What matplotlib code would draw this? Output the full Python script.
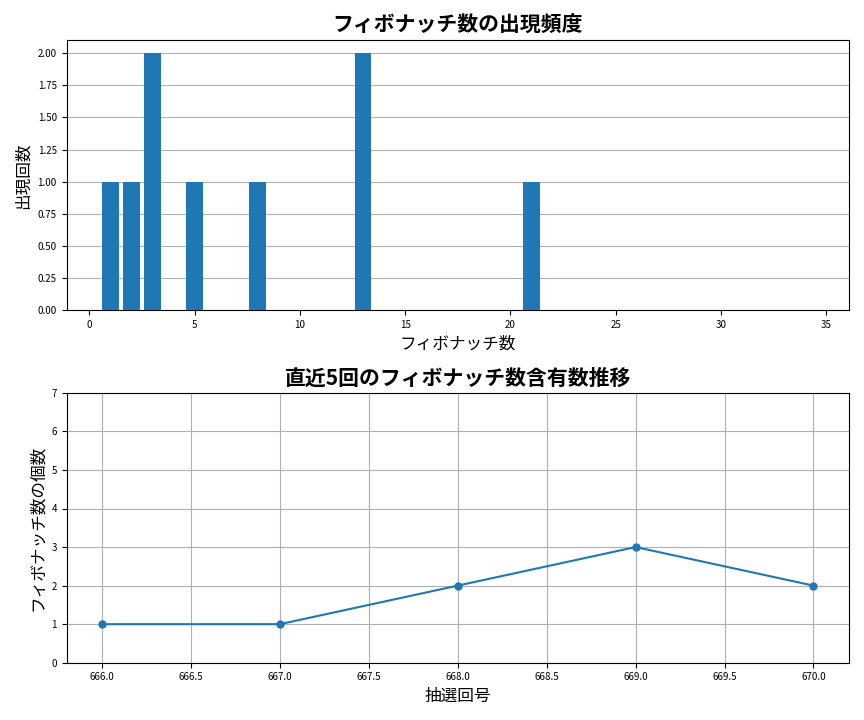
import matplotlib
matplotlib.use("Agg")
import matplotlib.pyplot as plt
from matplotlib.ticker import FormatStrFormatter

plt.rcParams['font.family'] = ['Noto Sans CJK JP', 'DejaVu Sans']

fib_numbers = [1, 2, 3, 5, 8, 13, 21, 34]
fib_counts = [1, 1, 2, 1, 1, 2, 1, 0]
draws = [666, 667, 668, 669, 670]
fib_in_draw = [1, 1, 2, 3, 2]

fig, (ax1, ax2) = plt.subplots(2, 1, figsize=(8.64, 7.2), dpi=100)

ax1.bar(fib_numbers, fib_counts, color='#1f77b4', zorder=3)
ax1.set_title('フィボナッチ数の出現頻度', fontsize=15, fontweight='bold')
ax1.set_xlabel('フィボナッチ数', fontsize=12)
ax1.set_ylabel('出現回数', fontsize=12)
ax1.set_ylim(0, 2.1)
ax1.yaxis.set_major_formatter(FormatStrFormatter('%.2f'))
ax1.grid(axis='y', color='#b0b0b0', zorder=0)
ax1.tick_params(labelsize=7)

ax2.plot(draws, fib_in_draw, marker='o', color='#1f77b4', markersize=5)
ax2.set_title('直近5回のフィボナッチ数含有数推移', fontsize=15, fontweight='bold')
ax2.set_xlabel('抽選回号', fontsize=12)
ax2.set_ylabel('フィボナッチ数の個数', fontsize=12)
ax2.set_ylim(0, 7)
ax2.xaxis.set_major_formatter(FormatStrFormatter('%.1f'))
ax2.grid(True, color='#b0b0b0')
ax2.tick_params(labelsize=7)

fig.tight_layout()
fig.savefig('out.png')
